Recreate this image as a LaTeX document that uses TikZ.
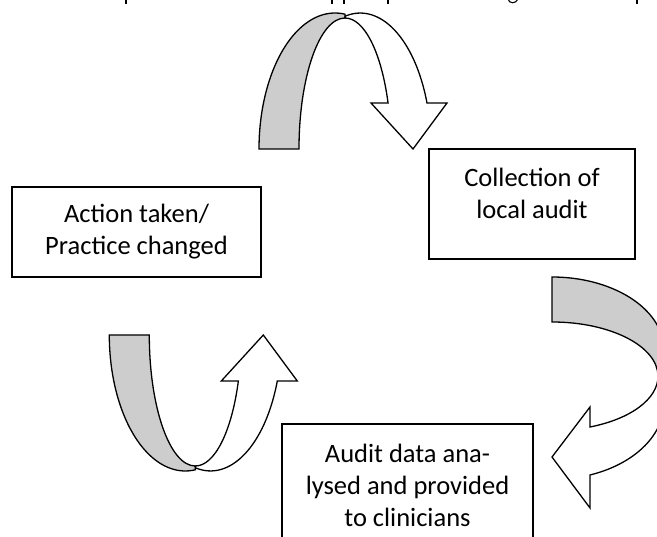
\documentclass[tikz,border=0pt]{standalone}
\usepackage{fontspec}
\setmainfont{Carlito}
\definecolor{bandgray}{RGB}{205,205,205}

\begin{document}
\begin{tikzpicture}[x=1pt, y=-1pt,
    stage/.style={draw, line width=1.6, align=center, inner sep=0pt,
      font=\fontsize{26.5}{32}\selectfont},
    backband/.style={draw, line width=1.3, fill=bandgray},
    frontband/.style={draw, line width=1.3, fill=white}]
    \useasboundingbox (0,0) rectangle (657,537);
    \clip (0,0) rectangle (657,537);

    % Boxes
    \node (action) [stage, minimum width=249, minimum height=90] at (136.5,232)
      {Action taken/\\Practice changed};
    \node (collect) [stage, minimum width=206, minimum height=110, text depth=22] at (532,204)
      {Collection of\\local audit};
    \node (audit) [stage, minimum width=251, minimum height=122] at (407.5,485)
      {Audit data ana-\\lysed and provided\\to clinicians};

    % Top and left arrows (same shape, the left one flipped)
    \foreach \dx/\dy/\flip in {0/0/1, -149.7/484/-1} {
      \begin{scope}[shift={(\dx,\dy)}, yscale=\flip]
        \draw[backband] (259,149)
          arc[start angle=180, end angle=277.6, x radius=76, y radius=136]
          -- (345,18)
          arc[start angle=270, end angle=180, x radius=46, y radius=131] -- cycle;
        \draw[frontband] (345,18)
          arc[start angle=270, end angle=339.4, x radius=46, y radius=131]
          -- (371,103) -- (413,149) -- (447,103) -- (427,103)
          arc[start angle=340.2, end angle=257.8, x radius=71, y radius=136] -- cycle;
      \end{scope}
    }

    % Right arrow
    \draw[backband] (552,277)
      arc[start angle=270, end angle=378.9, x radius=112, y radius=73]
      -- (658,376.3)
      arc[start angle=360, end angle=270, x radius=106, y radius=54.3] -- cycle;
    \draw[frontband] (658,376.3)
      arc[start angle=0, end angle=69, x radius=106, y radius=54.3]
      -- (590,407) -- (552,457) -- (590,508) -- (590,475)
      arc[start angle=70.2, end angle=-19, x radius=112, y radius=76.8] -- cycle;

    % Descenders of the cut-off line above
    \foreach \x in {126,332,344,388,637}
      \draw[line width=1.1] (\x,-1) -- (\x,4);
    \draw[line width=1.1] (508,-1) .. controls (509,4) and (516,4) .. (518,-1);
\end{tikzpicture}
\end{document}
